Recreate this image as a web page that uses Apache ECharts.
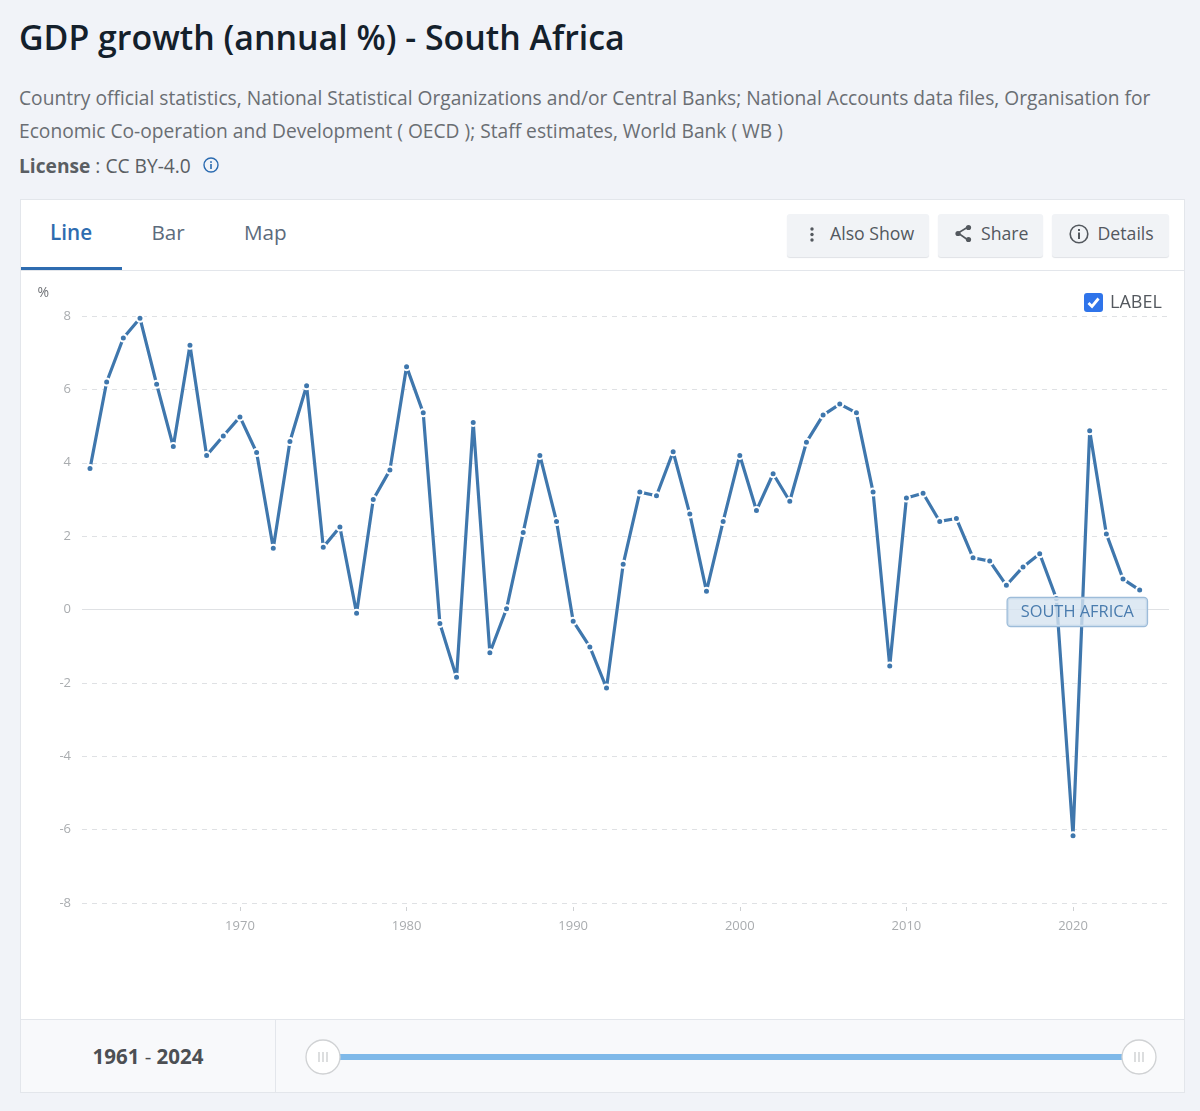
<!DOCTYPE html>
<html><head><meta charset="utf-8">
<style>
html,body{margin:0;padding:0;width:1200px;height:1111px;overflow:hidden;background:#f1f3f8;font-family:"Open Sans",sans-serif;color:#4f5358}
.abs{position:absolute;white-space:nowrap}
#card{position:absolute;left:20px;top:199px;width:1165px;height:894px;background:#fff;box-sizing:border-box;border:1px solid #e3e6eb}
#chart{position:absolute;left:21px;top:271px;width:1148px;height:748px}
.btn{position:absolute;top:214px;height:43px;background:#f1f3f6;border-radius:3px;box-shadow:0 1px 1px #dfe2e6;font-size:17.7px;line-height:38px;color:#53585e;box-sizing:border-box}
</style></head><body>
<div class="abs" style="left:19px;top:14px;font-size:33.9px;font-weight:600;color:#14202b;line-height:46px">GDP growth (annual %) - South Africa</div>
<div class="abs" style="left:19px;top:81px;font-size:19.2px;line-height:33px;color:#6a6e73">Country official statistics, National Statistical Organizations and/or Central Banks; National Accounts data files, Organisation for<br>Economic Co-operation and Development ( OECD ); Staff estimates, World Bank ( WB )</div>
<div class="abs" style="left:19px;top:152px;font-size:19.2px;line-height:28px;color:#5a5e63"><b style="font-weight:700">License</b> : CC BY-4.0</div>
<svg class="abs" style="left:202px;top:157px" width="18" height="18" viewBox="0 0 18 18"><circle cx="9" cy="8" r="7" fill="none" stroke="#2a6ab0" stroke-width="1.4"/><rect x="8.2" y="7" width="1.6" height="5" fill="#2a6ab0"/><rect x="8.2" y="4.2" width="1.6" height="1.7" fill="#2a6ab0"/></svg>
<div id="card"></div>
<div class="abs" style="left:21px;top:270px;width:1163px;height:1px;background:#e3e6eb"></div>
<div class="abs" style="left:21px;top:267px;width:101px;height:3px;background:#2e6cb0"></div>
<div class="abs" style="left:50px;top:216.5px;font-size:20.7px;font-weight:600;color:#2e6cb0;line-height:30px">Line</div>
<div class="abs" style="left:151.5px;top:216.5px;font-size:20.7px;color:#5c6b7c;line-height:30px">Bar</div>
<div class="abs" style="left:244px;top:216.5px;font-size:20.7px;color:#5c6b7c;line-height:30px">Map</div>
<div class="btn" style="left:787px;width:142px"><span class="abs" style="left:43px">Also Show</span>
<svg class="abs" style="left:21px;top:12px" width="8" height="18"><circle cx="4" cy="3" r="1.7" fill="#53585e"/><circle cx="4" cy="8.5" r="1.7" fill="#53585e"/><circle cx="4" cy="14" r="1.7" fill="#53585e"/></svg></div>
<div class="btn" style="left:938px;width:105px"><span class="abs" style="left:43px">Share</span>
<svg class="abs" style="left:15px;top:9px" width="22" height="22"><path d="M15 4 L5 10 L15 17" fill="none" stroke="#53585e" stroke-width="1.6"/><circle cx="15.5" cy="4.5" r="2.6" fill="#53585e"/><circle cx="5" cy="10.5" r="2.6" fill="#53585e"/><circle cx="15.5" cy="16.5" r="2.6" fill="#53585e"/></svg></div>
<div class="btn" style="left:1052px;width:117px"><span class="abs" style="left:45.5px">Details</span>
<svg class="abs" style="left:16px;top:9px" width="22" height="22"><circle cx="11" cy="11" r="8.8" fill="none" stroke="#53585e" stroke-width="1.6"/><rect x="10" y="9.5" width="2" height="6.5" fill="#53585e"/><rect x="10" y="6" width="2" height="2" fill="#53585e"/></svg></div>
<div id="chart"></div>
<svg class="abs" style="left:1084px;top:293px" width="19" height="19"><rect width="19" height="19" rx="3" fill="#2f74ea"/><path d="M4.5 10 L8 13.5 L14.5 5.5" fill="none" stroke="#fff" stroke-width="2.8"/></svg>
<div class="abs" style="left:1110px;top:288px;font-size:18px;line-height:27px;color:#53585e">LABEL</div>
<div class="abs" style="left:21px;top:1019px;width:1163px;height:73px;box-sizing:border-box;background:#f8f9fb;border-top:1px solid #e3e6eb"></div>
<div class="abs" style="left:275px;top:1019px;width:1px;height:73px;background:#e3e6eb"></div>
<div class="abs" style="left:21px;top:1039px;width:254px;text-align:center;font-size:20.5px;font-weight:700;line-height:34px;color:#4c4f53">1961 <span style="font-weight:400">-</span> 2024</div>
<div class="abs" style="left:335px;top:1054px;width:792px;height:6px;background:#7fb9e9"></div>
<svg class="abs" style="left:304px;top:1038px" width="38" height="38"><circle cx="19" cy="19" r="17" fill="#fff" stroke="#d0d2d4" stroke-width="1.3"/><path d="M15 14v10M19 14v10M23 14v10" stroke="#c6c8ca" stroke-width="1.2"/></svg>
<svg class="abs" style="left:1120px;top:1038px" width="38" height="38"><circle cx="19" cy="19" r="17" fill="#fff" stroke="#d0d2d4" stroke-width="1.3"/><path d="M15 14v10M19 14v10M23 14v10" stroke="#c6c8ca" stroke-width="1.2"/></svg>
<script src="https://cdn.jsdelivr.net/npm/echarts@6/dist/echarts.min.js"></script>
<script>
const startYear = 1961;
const gdpGrowth = [3.84,6.2,7.4,7.94,6.14,4.44,7.2,4.2,4.73,5.25,4.28,1.67,4.58,6.1,1.7,2.25,-0.1,3.0,3.8,6.62,5.36,-0.38,-1.85,5.1,-1.18,0.02,2.1,4.2,2.4,-0.32,-1.02,-2.14,1.23,3.2,3.1,4.3,2.6,0.5,2.4,4.2,2.7,3.7,2.95,4.56,5.3,5.6,5.36,3.2,-1.54,3.04,3.17,2.4,2.48,1.41,1.32,0.66,1.16,1.52,0.3,-6.17,4.87,2.06,0.83,0.53];
const years = gdpGrowth.map((_, i) => startYear + i);
const xTicks = [1970,1980,1990,2000,2010,2020];
const seriesName = "SOUTH AFRICA";
const chart = echarts.init(document.getElementById('chart'));
chart.setOption({
  animation:false,
  grid:{left:61,right:0,top:45,bottom:116},
  xAxis:{type:'value',min:1960.52,max:2025.76,
    axisLine:{show:false,onZero:false},splitLine:{show:false},
    axisTick:{show:true,customValues:xTicks,length:8,lineStyle:{color:'#cfd1d4',width:1,type:[4,100],dashOffset:100}},
    axisLabel:{customValues:xTicks,color:'#a9acaf',fontSize:13,fontFamily:'Open Sans',margin:17,formatter:v=>String(v)}},
  yAxis:{type:'value',min:-8,max:8,interval:2,name:'%',nameLocation:'end',nameGap:16,
    nameTextStyle:{color:'#6f7276',fontSize:14,fontFamily:'Open Sans',align:'right',padding:[0,33,0,0]},
    axisLine:{show:false},axisTick:{show:false},
    axisLabel:{color:'#a9acaf',fontSize:13,fontFamily:'Open Sans',margin:11},
    splitLine:{lineStyle:{color:'#dfe1e4',type:[5,5],width:1}}},
  series:[{type:'line',name:seriesName,data:years.map((y,i)=>[y,gdpGrowth[i]]),
    symbol:'circle',symbolSize:7,showAllSymbol:true,
    lineStyle:{color:'#3f77ad',width:3.2},
    itemStyle:{color:'#3f77ad',borderColor:'#fff',borderWidth:2},
    endLabel:{show:true,formatter:()=>seriesName,color:'#4a7cae',fontSize:16.4,fontFamily:'Open Sans',
      backgroundColor:'rgba(214,227,240,0.8)',borderColor:'#9dbcd9',borderWidth:1.2,borderRadius:3,
      padding:[6,13,6,13],distance:0,offset:[-132,22]},
    markLine:{silent:true,symbol:'none',label:{show:false},z:1,
      lineStyle:{color:'#dfe1e4',type:'solid',width:1},data:[{yAxis:0}]}
  }]
});
</script>
</body></html>
